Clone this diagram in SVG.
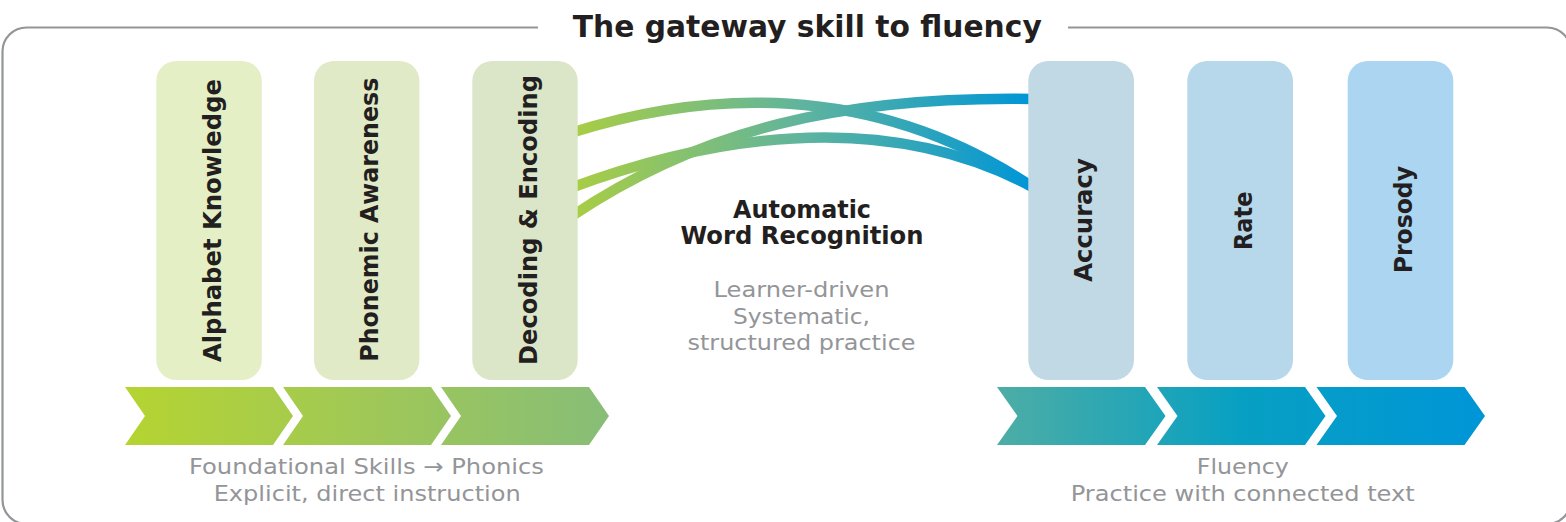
<svg xmlns="http://www.w3.org/2000/svg" width="1566" height="522" viewBox="0 0 1566 522">
  <style>
    .frame { fill: none; stroke: #939598; stroke-width: 2.2; }
    .box { stroke: none; }
    .lbl { font-family: "DejaVu Sans", "Liberation Sans", sans-serif; font-weight: bold; font-size: 24.5px; fill: #231f20; text-anchor: middle; }
    .title { font-family: "DejaVu Sans", "Liberation Sans", sans-serif; font-weight: bold; font-size: 29.6px; fill: #231f20; text-anchor: middle; }
    .head { font-family: "DejaVu Sans", "Liberation Sans", sans-serif; font-weight: bold; font-size: 24px; fill: #231f20; text-anchor: middle; }
    .note { font-family: "DejaVu Sans", "Liberation Sans", sans-serif; font-size: 21px; fill: #939598; text-anchor: middle; }
    .foot { font-family: "DejaVu Sans", "Liberation Sans", sans-serif; font-size: 21.5px; fill: #939598; text-anchor: middle; }
    .arc { fill: none; stroke: url(#arcGrad); stroke-width: 10.5; stroke-linecap: butt; }
  </style>
  <defs>
    <linearGradient id="greenGrad" gradientUnits="userSpaceOnUse" x1="125" y1="0" x2="610" y2="0">
      <stop offset="0" stop-color="#b5d431"/>
      <stop offset="0.5" stop-color="#a0c857"/>
      <stop offset="1" stop-color="#87bd77"/>
    </linearGradient>
    <linearGradient id="blueGrad" gradientUnits="userSpaceOnUse" x1="997" y1="0" x2="1486" y2="0">
      <stop offset="0" stop-color="#4dada5"/>
      <stop offset="0.5" stop-color="#07a0c3"/>
      <stop offset="1" stop-color="#0095d7"/>
    </linearGradient>
    <linearGradient id="arcGrad" gradientUnits="userSpaceOnUse" x1="577" y1="0" x2="1028" y2="0">
      <stop offset="0" stop-color="#a8cd45"/>
      <stop offset="0.5" stop-color="#5fb49e"/>
      <stop offset="1" stop-color="#0096d6"/>
    </linearGradient>
  </defs>

  <!-- outer frame, open at the top for the heading -->
  <path class="frame" d="M538,27.5 H26.5 A24,24 0 0 0 2.5,51.5 V500 A24,24 0 0 0 26.5,524 H1547 A24,24 0 0 0 1571,500 V51.5 A24,24 0 0 0 1547,27.5 H1068"/>
  <text class="title" x="807.3" y="36.7" textLength="469" lengthAdjust="spacingAndGlyphs">The gateway skill to fluency</text>

  <!-- connectors: arcs from Decoding &amp; Encoding to Accuracy -->
  <g id="connectors">
    <path class="arc" d="M572,132.6 C700,92 870,78 1034,188"/>
    <path class="arc" d="M572,187.5 C700,140 880,104 1034,188"/>
    <path class="arc" d="M572,216 C700,130 840,96 1034,99"/>
  </g>

  <!-- foundational skills -->
  <g id="node-alphabet">
    <rect class="box" x="156.3" y="61" width="105.5" height="319" rx="20" fill="#e4efc6"/>
    <text class="lbl" transform="translate(220.5,220.5) rotate(-90)" textLength="283" lengthAdjust="spacingAndGlyphs">Alphabet Knowledge</text>
  </g>
  <g id="node-phonemic">
    <rect class="box" x="314" y="61" width="105.4" height="319" rx="20" fill="#e0eac6"/>
    <text class="lbl" transform="translate(378.3,219.7) rotate(-90)" textLength="284" lengthAdjust="spacingAndGlyphs">Phonemic Awareness</text>
  </g>
  <g id="node-decoding">
    <rect class="box" x="472.3" y="61" width="105.4" height="319" rx="20" fill="#dbe6c8"/>
    <text class="lbl" transform="translate(536.7,220) rotate(-90)" textLength="290" lengthAdjust="spacingAndGlyphs">Decoding &amp; Encoding</text>
  </g>

  <!-- fluency -->
  <g id="node-accuracy">
    <rect class="box" x="1028.3" y="61" width="105.7" height="319" rx="20" fill="#c1d9e4"/>
    <text class="lbl" transform="translate(1091.7,220) rotate(-90)" textLength="123.4" lengthAdjust="spacingAndGlyphs">Accuracy</text>
  </g>
  <g id="node-rate">
    <rect class="box" x="1187.3" y="61" width="105.7" height="319" rx="20" fill="#b7d7eb"/>
    <text class="lbl" transform="translate(1251.7,220.8) rotate(-90)" textLength="58.3" lengthAdjust="spacingAndGlyphs">Rate</text>
  </g>
  <g id="node-prosody">
    <rect class="box" x="1347.7" y="61" width="105.6" height="319" rx="20" fill="#abd5f0"/>
    <text class="lbl" transform="translate(1411.5,219.7) rotate(-90)" textLength="107.3" lengthAdjust="spacingAndGlyphs">Prosody</text>
  </g>

  <!-- centre caption -->
  <g id="node-awr">
    <text class="head" x="802" y="217.7" textLength="138" lengthAdjust="spacingAndGlyphs">Automatic</text>
    <text class="head" x="802" y="244.3" textLength="243" lengthAdjust="spacingAndGlyphs">Word Recognition</text>
    <text class="note" x="801.5" y="296.7" textLength="176" lengthAdjust="spacingAndGlyphs">Learner-driven</text>
    <text class="note" x="801.5" y="324" textLength="137" lengthAdjust="spacingAndGlyphs">Systematic,</text>
    <text class="note" x="801.5" y="350" textLength="228" lengthAdjust="spacingAndGlyphs">structured practice</text>
  </g>

  <!-- phonics chevrons -->
  <g id="node-phonics">
    <g fill="url(#greenGrad)">
      <polygon points="125,387 273,387 293,416 273,445 125,445 145,416"/>
      <polygon points="283,387 431,387 451,416 431,445 283,445 303,416"/>
      <polygon points="441,387 589,387 609,416 589,445 441,445 461,416"/>
    </g>
    <text class="foot" x="366.5" y="474.3" textLength="355" lengthAdjust="spacingAndGlyphs">Foundational Skills → Phonics</text>
    <text class="foot" x="367.2" y="501" textLength="307" lengthAdjust="spacingAndGlyphs">Explicit, direct instruction</text>
  </g>

  <!-- fluency chevrons -->
  <g id="node-fluency">
    <g fill="url(#blueGrad)">
      <polygon points="997,387 1145,387 1165.5,416 1145,445 997,445 1017.5,416"/>
      <polygon points="1157,387 1305,387 1325.5,416 1305,445 1157,445 1177.5,416"/>
      <polygon points="1316.5,387 1464.5,387 1485,416 1464.5,445 1316.5,445 1337,416"/>
    </g>
    <text class="foot" x="1242.8" y="474.3" textLength="92" lengthAdjust="spacingAndGlyphs">Fluency</text>
    <text class="foot" x="1242.7" y="501" textLength="344" lengthAdjust="spacingAndGlyphs">Practice with connected text</text>
  </g>
</svg>
